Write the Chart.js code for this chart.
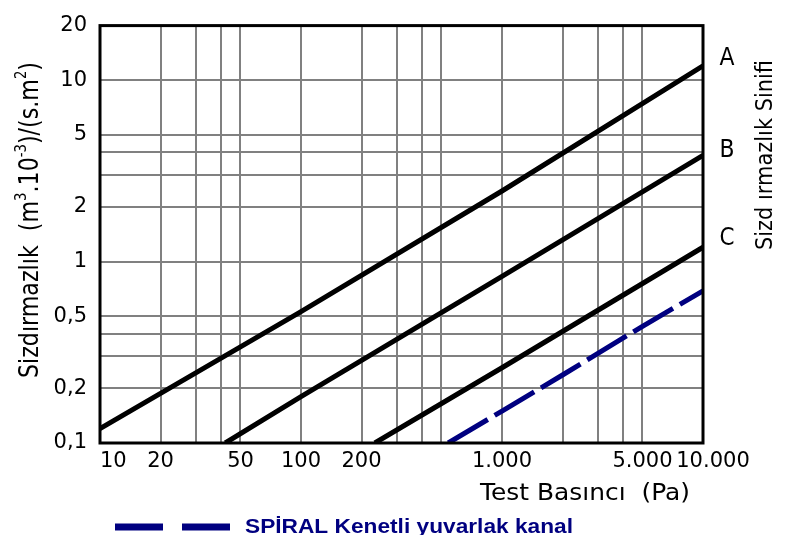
<!DOCTYPE html>
<html>
<head>
<meta charset="utf-8">
<script src="https://cdn.jsdelivr.net/npm/chart.js@4.4.1/dist/chart.umd.min.js"></script>
<style>html,body{margin:0;padding:0;background:#fff}</style>
</head>
<body>
<canvas id="leakChart" width="789" height="535"></canvas>
<script>
// values (log-log, pressure in Pa)
var aPressure = [10, 100, 1000, 10000];
var aLeak = [0.12, 0.53, 2.45, 12];
var bPressure = [42, 100, 1000, 10000];
var bLeak = [0.1, 0.18, 0.83, 3.85];
var cPressure = [233, 1000, 10000];
var cLeak = [0.1, 0.26, 1.2];
var spiralPressure = [540, 1000, 2000, 5000, 10000];
var spiralLeak = [0.1, 0.15, 0.237, 0.44, 0.69];

var xTicks = [10, 20, 30, 40, 50, 100, 200, 300, 400, 500, 1000, 2000, 3000, 4000, 5000, 10000];
var xLabelValues = [10, 20, 50, 100, 200, 1000, 5000, 10000];
var xLabelTexts = ['10', '20', '50', '100', '200', '1.000', '5.000', '10.000'];
var yTicks = [0.1, 0.2, 0.3, 0.4, 0.5, 1, 2, 3, 4, 5, 10, 20];
var yLabels = {0.1: '0,1', 0.2: '0,2', 0.5: '0,5', 1: '1', 2: '2', 5: '5', 10: '10', 20: '20'};
var classNames = ['A', 'B', 'C'];
var spiralName = 'SPİRAL Kenetli yuvarlak kanal';

function pts(px, py){ return px.map(function(p, i){ return {x: p, y: py[i]}; }); }

// draws a run of text pieces ([text, isSuperscript]) stretched to a given length / cap height
function drawParts(ctx, parts, o){
  var size = o.size, supSize = Math.round(size * 0.62);
  function font(sup){ return (o.weight || 'normal') + ' ' + (sup ? supSize : size) + 'px ' + o.family; }
  var widths = parts.map(function(p){ ctx.font = font(p[1]); return ctx.measureText(p[0]).width; });
  var total = widths.reduce(function(a, b){ return a + b; }, 0);
  ctx.save();
  ctx.translate(o.x, o.y);
  if(o.rot) ctx.rotate(o.rot);
  ctx.scale(o.len ? o.len / total : 1, o.cap ? o.cap / (size * 0.73) : 1);
  ctx.fillStyle = o.color || '#000';
  ctx.textBaseline = 'alphabetic';
  ctx.textAlign = 'left';
  var x = -total / 2;
  parts.forEach(function(p, i){
    ctx.font = font(p[1]);
    ctx.fillText(p[0], x, p[1] ? -size * 0.45 : 0);
    x += widths[i];
  });
  ctx.restore();
}

var decorations = {
  id: 'decorations',
  afterDatasetsDraw: function(chart){
    var ctx = chart.ctx, a = chart.chartArea, xs = chart.scales.x;
    ctx.save();
    ctx.strokeStyle = '#000';
    ctx.lineWidth = 3;
    ctx.strokeRect(a.left, a.top, a.right - a.left, a.bottom - a.top);

    // x tick labels (first one sits to the right of its tick, last one nudged right)
    ctx.fillStyle = '#000';
    ctx.font = '21px "DejaVu Sans"';
    ctx.textBaseline = 'alphabetic';
    xLabelValues.forEach(function(v, i){
      var px = xs.getPixelForValue(v);
      ctx.textAlign = i === 0 ? 'left' : 'center';
      if(i === xLabelValues.length - 1) px += 10;
      ctx.fillText(xLabelTexts[i], px, a.bottom + 24);
    });

    // axis titles
    drawParts(ctx, [['Sizdırmazlık  (m', 0], ['3', 1], ['.10', 0], ['-3', 1], [')/(s.m', 0], ['2', 1], [')', 0]],
      {x: 38, y: 220, rot: -Math.PI / 2, len: 316, cap: 19, size: 20, family: 'DejaVu Sans'});
    drawParts(ctx, [['Test Basıncı  (Pa)', 0]], {x: 585, y: 500, len: 210, cap: 17, size: 23, family: 'DejaVu Sans'});
    drawParts(ctx, [['Sizd ırmazlık Sinifi', 0]], {x: 772, y: 155, rot: -Math.PI / 2, len: 190, cap: 17, size: 20, family: 'DejaVu Sans'});

    // class letters next to the line ends
    var letterY = [65, 157, 245];
    classNames.forEach(function(n, i){
      drawParts(ctx, [[n, 0]], {x: 727, y: letterY[i], len: 15, cap: 18, size: 24, family: 'DejaVu Sans'});
    });

    // legend
    ctx.strokeStyle = '#000080';
    ctx.lineWidth = 7;
    ctx.setLineDash([48, 19]);
    ctx.beginPath();
    ctx.moveTo(115, 527);
    ctx.lineTo(230, 527);
    ctx.stroke();
    ctx.setLineDash([]);
    drawParts(ctx, [[spiralName, 0]], {x: 409, y: 533, len: 328, cap: 15, size: 21, weight: 'bold', family: 'Liberation Sans', color: '#000080'});
    ctx.restore();
  }
};

var blackLine = {borderColor: '#000', borderWidth: 5, pointRadius: 0, tension: 0, clip: 0};

new Chart(document.getElementById('leakChart'), {
  type: 'line',
  data: {
    datasets: [
      Object.assign({label: 'A', data: pts(aPressure, aLeak)}, blackLine),
      Object.assign({label: 'B', data: pts(bPressure, bLeak)}, blackLine),
      Object.assign({label: 'C', data: pts(cPressure, cLeak)}, blackLine),
      {label: spiralName, data: pts(spiralPressure, spiralLeak), borderColor: '#000080', borderWidth: 5,
        borderDash: [46, 8], pointRadius: 0, tension: 0, clip: 0}
    ]
  },
  options: {
    responsive: false,
    devicePixelRatio: 1,
    animation: false,
    layout: {padding: {left: 0, top: 15, right: 86, bottom: 0}},
    plugins: {legend: {display: false}, tooltip: {enabled: false}, title: {display: false}},
    scales: {
      x: {
        type: 'logarithmic', min: 10, max: 10000,
        afterBuildTicks: function(s){ s.ticks = xTicks.map(function(v){ return {value: v}; }); },
        afterFit: function(s){ s.height = 92; },
        grid: {color: '#808080', lineWidth: 2, drawTicks: false},
        border: {display: false},
        ticks: {display: false, autoSkip: false}
      },
      y: {
        type: 'logarithmic', min: 0.1, max: 20,
        afterBuildTicks: function(s){ s.ticks = yTicks.map(function(v){ return {value: v}; }); },
        afterFit: function(s){ s.width = 100; },
        grid: {color: '#808080', lineWidth: 2, drawTicks: false},
        border: {display: false},
        ticks: {autoSkip: false, padding: 13, color: '#000',
          font: {family: 'DejaVu Sans', size: 21},
          callback: function(v){ return yLabels[v] || ''; }}
      }
    }
  },
  plugins: [decorations]
});
</script>
</body>
</html>
